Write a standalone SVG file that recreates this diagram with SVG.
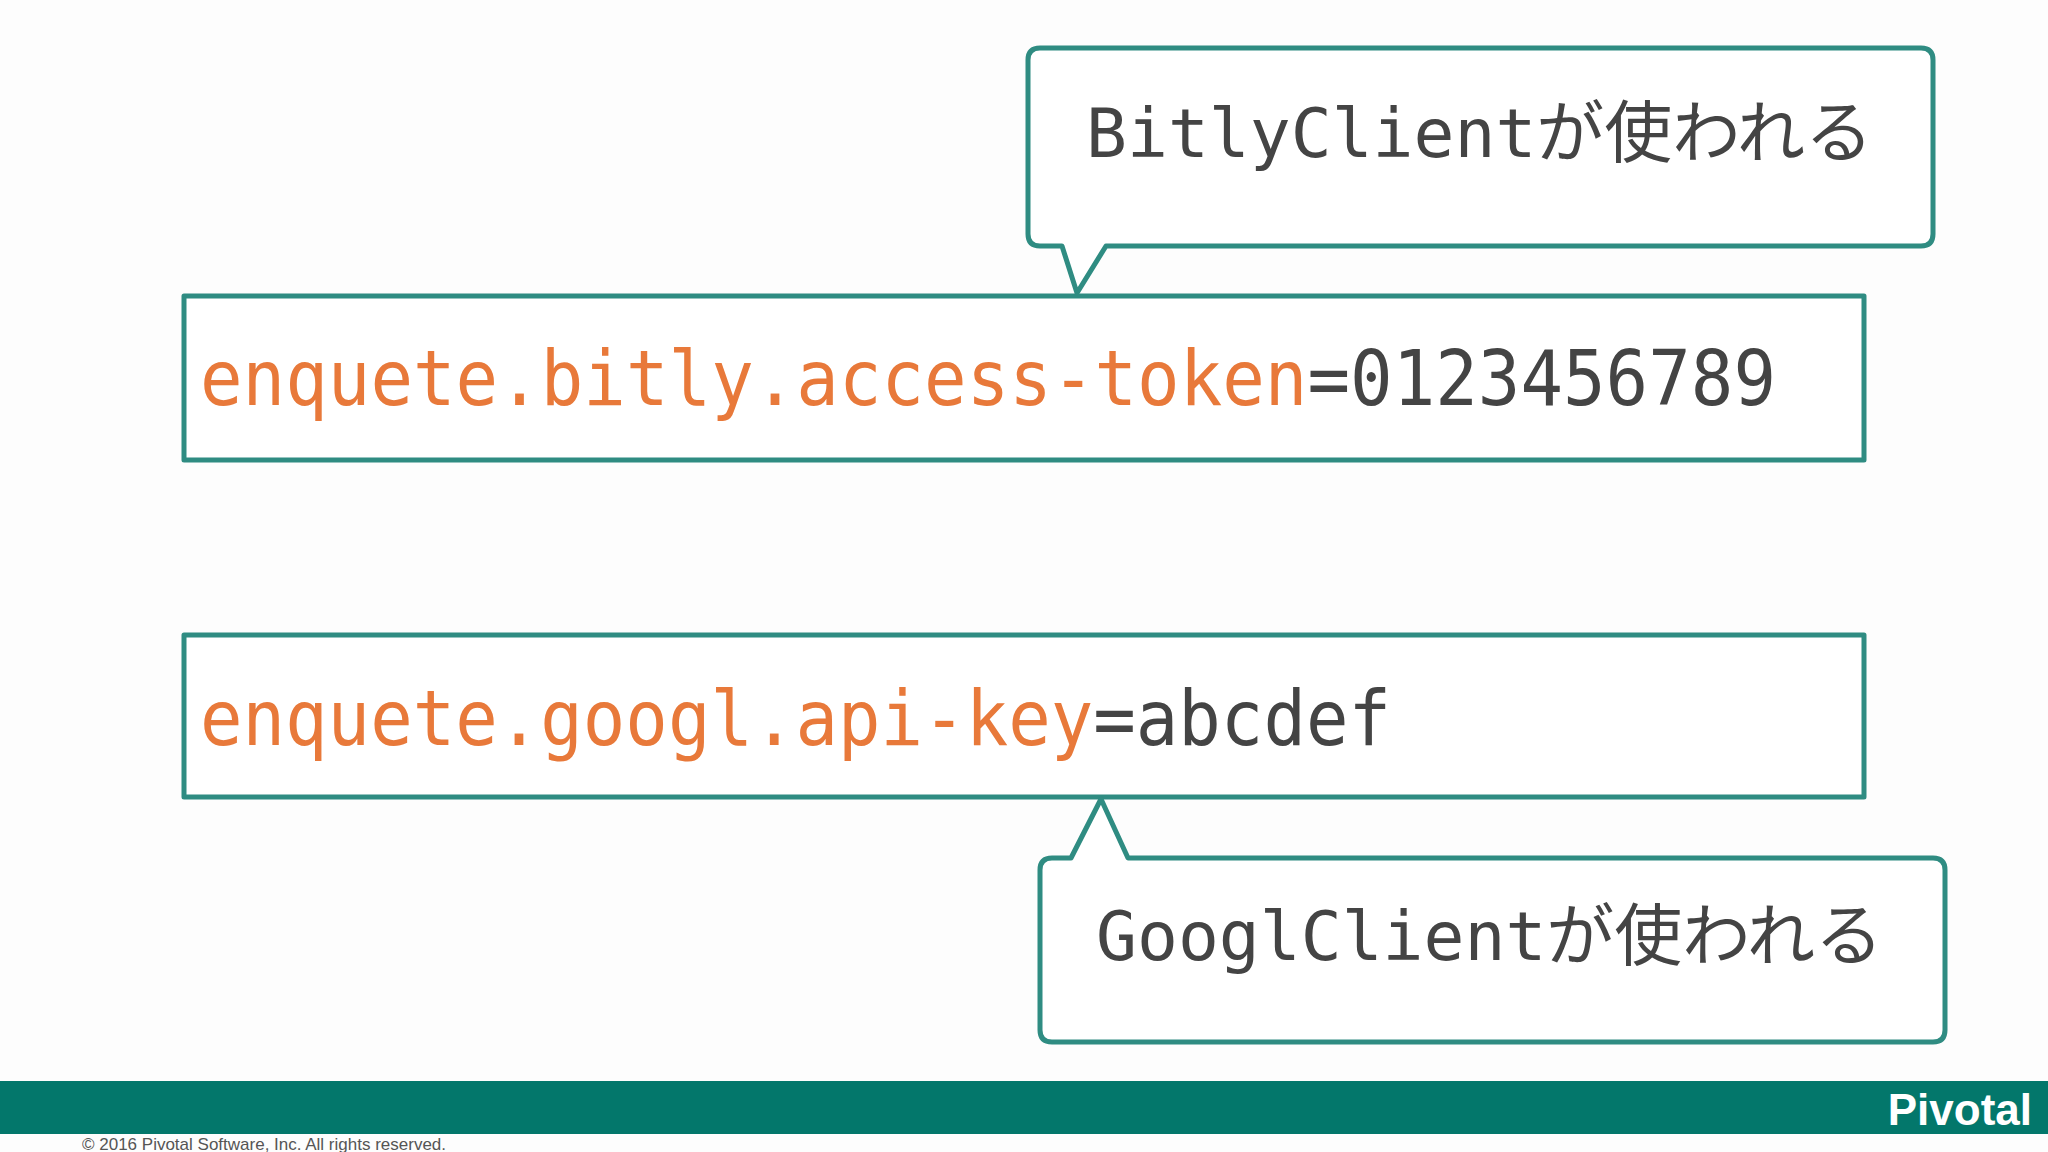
<svg xmlns="http://www.w3.org/2000/svg" width="2048" height="1152" viewBox="0 0 2048 1152">
<style>
.box{fill:#fff;stroke:#2f8c82;stroke-width:5;stroke-linejoin:round}
.code{font-family:"DejaVu Sans Mono","Liberation Mono",monospace;font-size:76px;fill:#444}
.key{fill:#e8793a}
.note{font-family:"DejaVu Sans Mono","Noto Sans CJK JP",monospace;font-size:68px;fill:#444}
</style>
<rect width="2048" height="1152" fill="#fdfdfd"/>
<g id="callout1">
<path class="box" d="M1040,48 H1921 Q1933,48 1933,60 V234 Q1933,246 1921,246 H1106 L1077,293 L1062,246 H1040 Q1028,246 1028,234 V60 Q1028,48 1040,48 Z"/>
<text class="note" x="1086" y="157">BitlyClientが使われる</text>
</g>
<g id="box1">
<rect class="box" x="184" y="296" width="1680" height="164"/>
<text class="code" x="200" y="405" textLength="1576" lengthAdjust="spacingAndGlyphs"><tspan class="key">enquete.bitly.access-token</tspan>=0123456789</text>
</g>
<g id="box2">
<rect class="box" x="184" y="635" width="1680" height="162"/>
<text class="code" x="200" y="745" textLength="1191" lengthAdjust="spacingAndGlyphs"><tspan class="key">enquete.googl.api-key</tspan>=abcdef</text>
</g>
<g id="callout2">
<path class="box" d="M1052,858 H1071 L1101,799 L1128,858 H1933 Q1945,858 1945,870 V1030 Q1945,1042 1933,1042 H1052 Q1040,1042 1040,1030 V870 Q1040,858 1052,858 Z"/>
<text class="note" x="1096" y="960">GooglClientが使われる</text>
</g>
<g id="connectors"></g>
<g id="footer">
<rect x="0" y="1081" width="2048" height="53" fill="#03776b"/>
<text x="2032" y="1125" text-anchor="end" font-family="Liberation Sans,Arial,sans-serif" font-size="44" font-weight="bold" fill="#fff">Pivotal</text>
<text x="82" y="1150" font-family="Liberation Sans,Arial,sans-serif" font-size="17" fill="#555">© 2016 Pivotal Software, Inc.  All rights reserved.</text>
</g>
</svg>
